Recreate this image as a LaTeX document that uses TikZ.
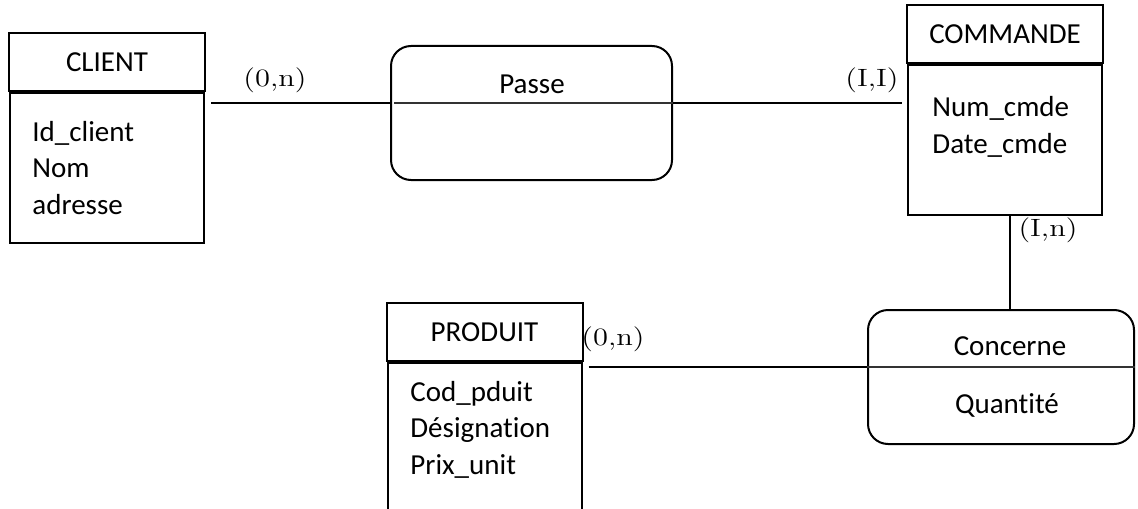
\documentclass[tikz,border=0pt]{standalone}
\usepackage{fontspec}
\newfontfamily\calibri[Ligatures=NoCommon]{Carlito}
\usepackage{graphicx}
\usetikzlibrary{calc}

\newcommand{\card}[1]{\scalebox{1.22}[1]{\fontsize{12.5}{13}\selectfont #1}}

\tikzset{
  entete/.style={draw, line width=1pt, minimum width=98pt, minimum height=29pt, inner sep=0pt, font=\calibri\fontsize{14.5}{18.25}\selectfont},
  corps/.style={draw, line width=1pt, minimum width=97pt, anchor=north, inner sep=0pt},
  attributs/.style={align=left, anchor=base west, inner sep=0pt, font=\calibri\fontsize{14.5}{18.25}\selectfont},
  relation/.style={draw, line width=1pt, rounded corners=10pt, minimum height=67pt, inner sep=0pt},
  separateur/.style={line width=0.6pt, draw=black!80},
  lien/.style={line width=1pt},
  texte/.style={font=\calibri\fontsize{14.5}{18.25}\selectfont, inner sep=0pt, anchor=base},
  cardinalite/.style={inner sep=0pt}
}

\begin{document}
\begin{tikzpicture}[x=0.5pt, y=-0.5pt]
    \useasboundingbox (0,0) rectangle (1138,508);

    % entites (base = derniere ligne des attributs)
    \node[entete] at (107,62.5) (client) {CLIENT};
    \node[corps, minimum height=74.5pt] at (client.south) (clientcorps) {};
    \node[attributs] at (32,214) (clientattr) {Id\_client\\Nom\\adresse};

    \node[entete] at (1005,34) (commande) {COMMANDE};
    \node[corps, minimum height=75pt] at (commande.south) (commandecorps) {};
    \node[attributs] at (932,153) (commandeattr) {Num\_cmde\\Date\_cmde};

    \node[entete] at (484.5,332) (produit) {PRODUIT};
    \node[corps, minimum height=82pt] at (produit.south) (produitcorps) {};
    \node[attributs] at (410,474) (produitattr) {Cod\_pduit\\Désignation\\Prix\_unit};

    % associations
    \node[relation, minimum width=140.5pt] at (531.5,113) (passe) {};
    \coordinate (passeg) at (passe.west |- 0,103);
    \coordinate (passed) at (passe.east |- 0,103);
    \draw[separateur] ([xshift=2pt]passeg) -- (passed);
    \node[texte] at (532,93) (passetxt) {Passe};

    \node[relation, minimum width=133pt] at (1001,377) (concerne) {};
    \coordinate (concerneg) at (concerne.west |- 0,367);
    \coordinate (concerned) at (concerne.east |- 0,367);
    \draw[separateur] (concerneg) -- (concerned);
    \node[texte] at (1010,355) (concernetxt) {Concerne};
    \node[texte] at (1007,413) (quantite) {Quantité};

    % liens
    \draw[lien] ([xshift=3pt]clientcorps.east |- passeg) -- (passeg);
    \draw[lien] (passed) -- ([xshift=-2.5pt]commandecorps.west |- passed);
    \draw[lien] ([xshift=2.5pt]commandecorps.south) -- ([xshift=2.5pt]commandecorps.south |- concerne.north);
    \draw[lien] ([xshift=3pt]produitcorps.east |- concerneg) -- (concerneg);

    % cardinalites
    \node[cardinalite] at (275,80) (c1) {\card{(0,n)}};
    \node[cardinalite] at (872,80) (c2) {\card{(I,I)}};
    \node[cardinalite] at (1048,230) (c3) {\card{(I,n)}};
    \node[cardinalite] at (613,339) (c4) {\card{(0,n)}};
\end{tikzpicture}
\end{document}
